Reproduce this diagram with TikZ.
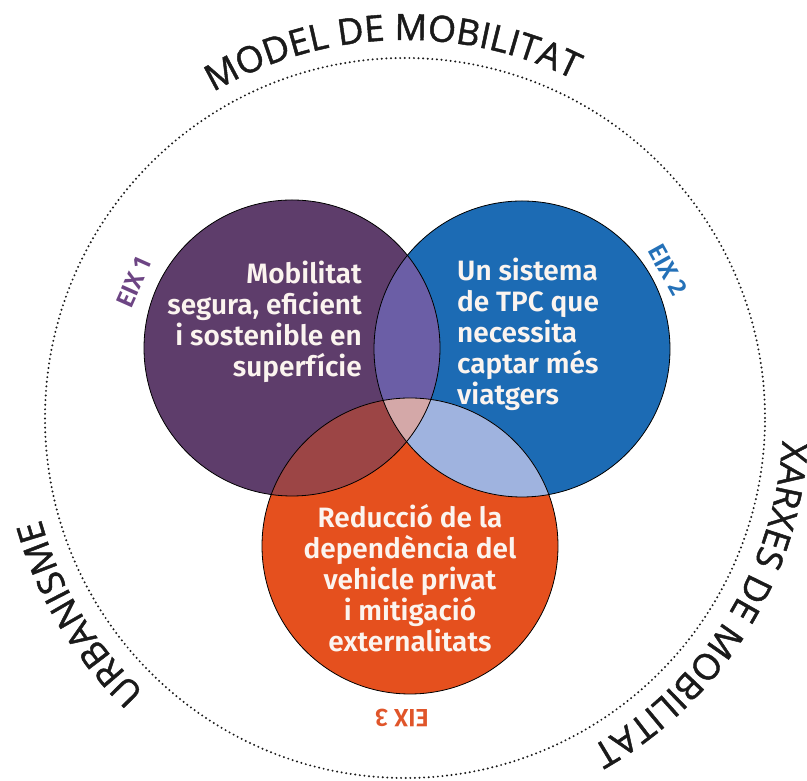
\documentclass[tikz,border=0pt]{standalone}
\usepackage{fontspec}
\setmainfont{Fira Sans}
\newfontfamily\semifont{Fira Sans SemiBold}
\newfontfamily\ringfont{Open Sans}[FakeBold=1.3]
\usetikzlibrary{decorations.text}

\definecolor{eixpurple}{HTML}{5E3D6B}
\definecolor{eixblue}{HTML}{1C6BB4}
\definecolor{eixorange}{HTML}{E5501E}
\definecolor{mixpb}{HTML}{6B5EA6}
\definecolor{mixpo}{HTML}{9C4545}
\definecolor{mixbo}{HTML}{9FB3DF}
\definecolor{mixall}{HTML}{D4A8A8}
\definecolor{labpurple}{HTML}{6D4584}
\definecolor{labblue}{HTML}{2471B8}
\definecolor{laborange}{HTML}{E0552A}
\definecolor{cream}{HTML}{FBF4EF}
\definecolor{ink}{HTML}{1A1A1A}

\tikzset{
  ringdots/.style={ink, line width=2.2pt, line cap=round, dash pattern=on 0pt off 4.6pt},
  eixline/.style={black, line width=0.8pt},
  bodytext/.style={text=cream, font=\semifont\fontsize{28}{31}\selectfont, inner sep=0pt},
  eixlabel/.style={font=\semifont\fontsize{25}{25}\selectfont, inner sep=0pt},
}

\begin{document}
\begin{tikzpicture}[x=1pt,y=1pt]
\useasboundingbox (0,0) rectangle (807,781);

\coordinate (mid) at (405,363);
\draw[ringdots] (mid) circle (360);

\coordinate (c1) at (292,433);
\coordinate (c2) at (522,432);
\coordinate (c3) at (410,235);

\fill[eixpurple] (c1) circle (148);
\fill[eixblue] (c2) circle (148);
\fill[eixorange] (c3) circle (148);
\begin{scope}
  \clip (c2) circle (148);
  \fill[mixbo] (c3) circle (148);
\end{scope}
\begin{scope}
  \clip (c1) circle (148);
  \fill[mixpb] (c2) circle (148);
  \fill[mixpo] (c3) circle (148);
  \clip (c2) circle (148);
  \fill[mixall] (c3) circle (148);
\end{scope}
\draw[eixline] (c1) circle (148) (c2) circle (148) (c3) circle (148);

% texts inside
\node[bodytext, align=right, anchor=east] (t1) at (362,459) {Mobilitat\\segura, eficient\\i sostenible en\\superfície};
\node[bodytext, align=left, anchor=west] (t2) at (457,447) {Un sistema\\de TPC que\\necessita\\captar més\\viatgers};
\node[bodytext, align=center] (t3) at (410,203) {Reducció de la\\dependència del\\vehicle privat\\i mitigació\\externalitats};

\node[eixlabel, text=labpurple, rotate=66] (l1) at (134,499) {EIX 1};
\node[eixlabel, text=labblue, rotate=-61] (l2) at (668,511) {EIX 2};
\node[eixlabel, text=laborange, rotate=180] (l3) at (402,63) {EIX 3};

% ring labels
\path[decorate, decoration={text along path, text align=center, text color=ink,
  text={|\ringfont\fontsize{36}{36}\selectfont|MODEL DE MOBILITAT}}]
  (mid) ++(134:378) arc[start angle=134, end angle=50, radius=378];
\path[decorate, decoration={text along path, text align=center, text color=ink,
  text={|\ringfont\fontsize{36}{36}\selectfont|XARXES DE MOBILITAT}}]
  (mid) ++(10:378) arc[start angle=10, end angle=-74, radius=378];
\path[decorate, decoration={text along path, text align=center, text color=ink,
  text={|\ringfont\fontsize{36}{36}\selectfont|URBANISME}}]
  (mid) ++(-114:378) arc[start angle=-114, end angle=-184, radius=378];
\end{tikzpicture}
\end{document}
